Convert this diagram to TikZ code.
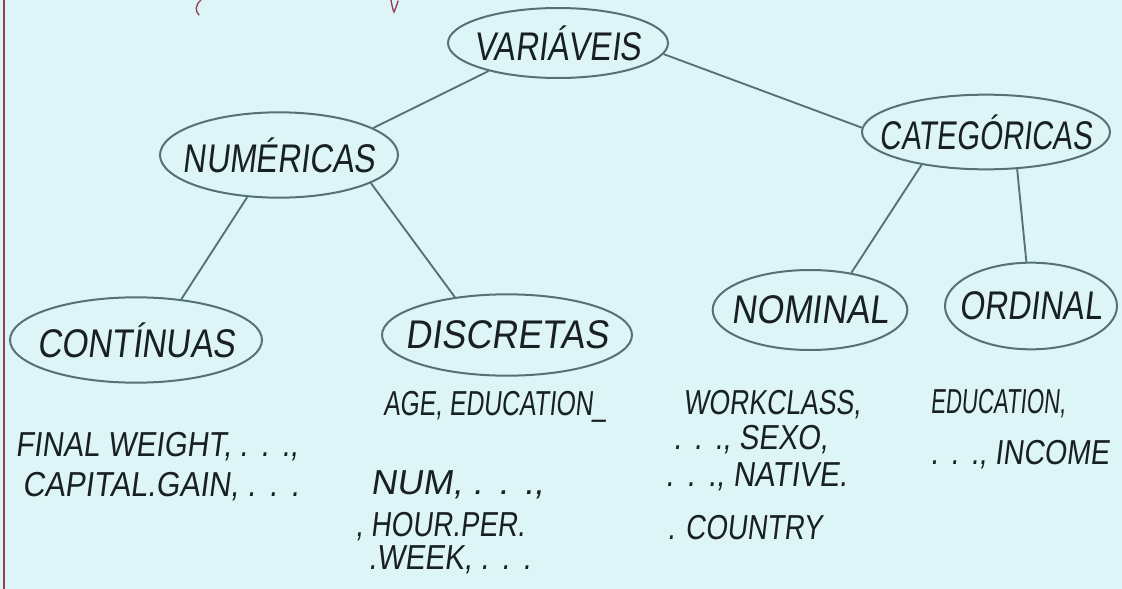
\documentclass[tikz,border=0pt]{standalone}
\usepackage{fontspec}
\usepackage{graphicx}
\setmainfont{Liberation Sans}
\newfontfamily\handfont[FakeSlant=0.12,FakeStretch=0.8]{Liberation Sans}
\usetikzlibrary{shapes.geometric}
\definecolor{paper}{RGB}{221,245,247}
\definecolor{pencil}{RGB}{84,114,116}
\definecolor{ink}{RGB}{25,32,36}
\definecolor{margin}{RGB}{150,60,80}
% zero-width label so that the ellipse size comes from minimum width/height only
\newcommand{\hw}[2][1]{\makebox[0pt]{\scalebox{#1}[1]{#2}}}
% horizontally squeezed or widened handwriting
\newcommand{\sx}[2]{\scalebox{#1}[1]{#2}}
% widely spaced dots
\newcommand{\dd}{.\hspace{9pt}.\hspace{9pt}.}
\begin{document}
\begin{tikzpicture}[x=0.75pt,y=-0.75pt,
  bubble/.style={ellipse, draw=pencil, line width=1.5pt, inner sep=0pt,
    text=ink, font=\handfont\fontsize{30}{30}\selectfont},
  branch/.style={draw=pencil, line width=1.4pt},
  notes/.style={anchor=west, inner sep=0pt, text=ink,
    font=\handfont\fontsize{26}{26}\selectfont}]

% paper
\fill[paper] (0,0) rectangle (1122,589);
\useasboundingbox (0,0) rectangle (1122,589);

% red margin line and ink marks from the line above
\draw[margin, line width=1pt] (4,0) -- (4,589);
\draw[margin, line width=1pt, line cap=round] (201,0) .. controls (195,5) and (195,11) .. (199,15);
\draw[margin, line width=1pt, line cap=round] (391,0) .. controls (392,6) and (393,10) .. (394,12) .. controls (396,8) and (397,4) .. (398,1);

% category bubbles
\node[bubble, minimum width=165pt, minimum height=52.5pt] (v)   at (558,43)  {\hw{VARIÁVEIS}};
\node[bubble, minimum width=178.5pt, minimum height=64pt] (n)   at (279,155) {\hw{NUMÉRICAS}};
\node[bubble, minimum width=186pt, minimum height=56pt]   (c)   at (986,132) {\hw[0.92]{CATEGÓRICAS}};
\node[bubble, minimum width=189pt, minimum height=64pt]   (ct)  at (136,340) {\hw[1.05]{CONTÍNUAS}};
\node[bubble, minimum width=187.5pt, minimum height=61pt] (d)   at (507,335) {\hw[1.12]{DISCRETAS}};
\node[bubble, minimum width=146pt, minimum height=60pt]   (nom) at (810,310) {\hw[1.08]{NOMINAL}};
\node[bubble, minimum width=129pt, minimum height=65pt]   (ord) at (1031,306) {\hw{ORDINAL}};

% tree branches
\draw[branch] (v.202) -- (n.16);
\draw[branch] (v.-6) -- (c.178);
\draw[branch] (n.233) -- (ct.42);
\draw[branch] (n.-17) -- (d.144);
\draw[branch] (c.207) -- (nom.42);
\draw[branch] (c.-50) -- (ord.96);

% example variables
\node[notes] (t1) at (15,447)  {\sx{1.07}{FINAL WEIGHT, \dd,}};
\node[notes] (t2) at (22,487)  {\sx{1.1}{CAPITAL.GAIN, \dd}};
\node[notes] (t3) at (383,407) {\sx{0.89}{AGE, EDUCATION\_}};
\node[notes] (t4) at (370,485) {\sx{1.3}{NUM, \dd,}};
\node[notes] (t5) at (355,527) {, HOUR.PER.};
\node[notes] (t6) at (368,560) {\sx{1.07}{.WEEK, \dd}};
\node[notes] (t7) at (683,405) {\sx{0.96}{WORKCLASS,}};
\node[notes] (t8) at (673,440) {\sx{1.05}{\dd, SEXO,}};
\node[notes] (t9) at (665,477) {\sx{1.08}{\dd, NATIVE.}};
\node[notes] (t10) at (667,528) {. COUNTRY};
\node[notes] (t11) at (930,404) {\sx{0.8}{EDUCATION,}};
\node[notes] (t12) at (930,455) {\sx{1.03}{\dd, INCOME}};
\end{tikzpicture}
\end{document}
